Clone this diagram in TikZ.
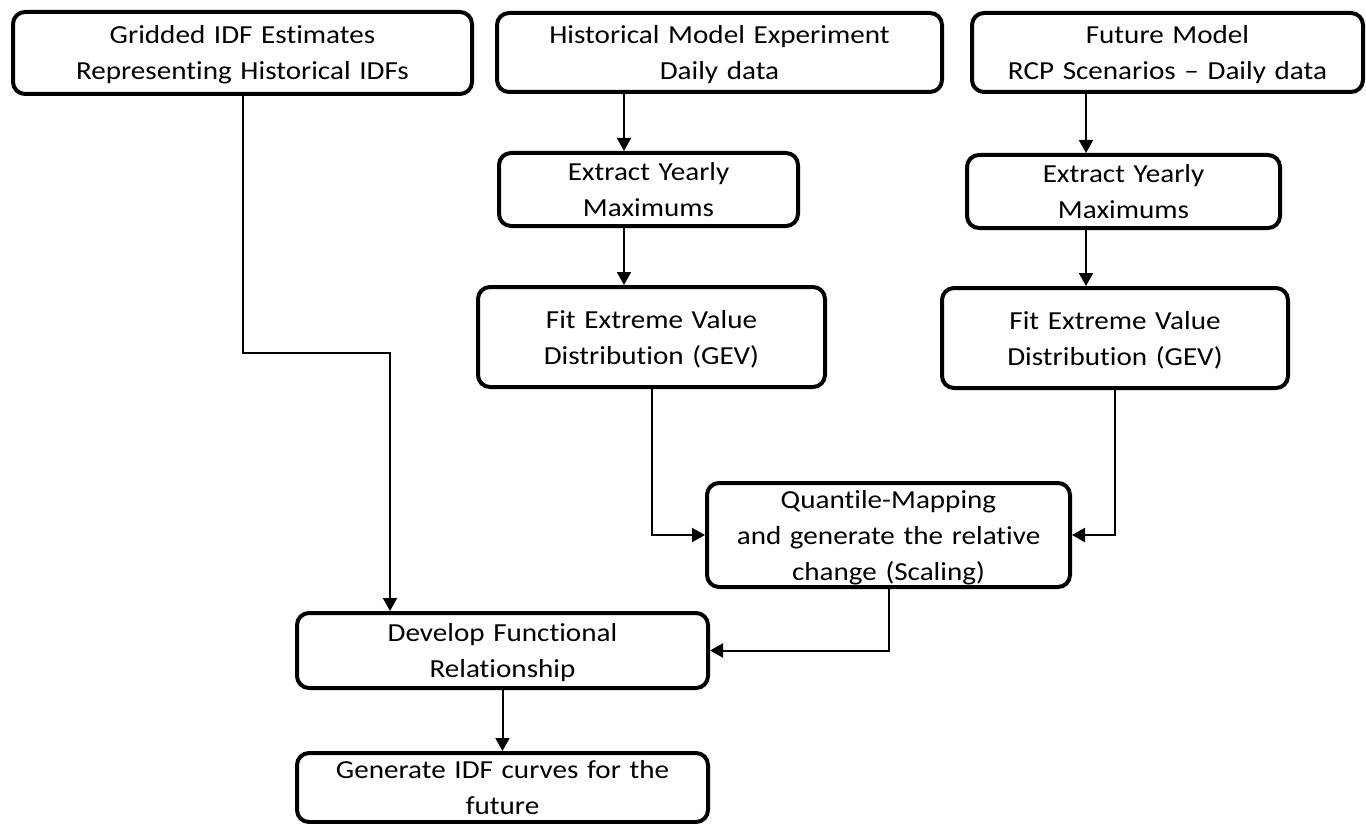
\documentclass[tikz,border=0pt]{standalone}
\usepackage{fontspec}
\setmainfont{Carlito}[FakeStretch=1.12,Ligatures=NoCommon]
\usetikzlibrary{arrows.meta,calc}
\begin{document}
\begin{tikzpicture}[x=1pt,y=-1pt,
  box/.style={draw, line width=4pt, rounded corners=12pt, align=center, inner sep=0pt,
    font=\fontsize{26}{36}\selectfont,
    execute at begin node={\rule{0pt}{24pt}},
    execute at end node={\rule[-6pt]{0pt}{6pt}}},
  conn/.style={line width=2pt},
  arr/.style={conn, -{Triangle[length=13pt,width=14pt]}}]
\useasboundingbox (0,0) rectangle (1366,824);

\node[box, minimum width=459pt, minimum height=82pt, text width=450pt] (grid) at (242.5,53) {Gridded IDF Estimates\\Representing Historical IDFs};
\node[box, minimum width=445pt, minimum height=79pt, text width=436pt] (hist) at (719.5,52.5) {Historical Model Experiment\\Daily data};
\node[box, minimum width=391pt, minimum height=79pt, text width=382pt] (fut) at (1167.5,52.5) {Future Model\\RCP Scenarios – Daily data};
\node[box, minimum width=299pt, minimum height=73pt, text width=290pt] (ext1) at (648.5,189.5) {Extract Yearly\\Maximums};
\node[box, minimum width=313pt, minimum height=73pt, text width=304pt] (ext2) at (1123.5,191.5) {Extract Yearly\\Maximums};
\node[box, minimum width=347pt, minimum height=100pt, text width=338pt] (fit1) at (651.5,337) {Fit Extreme Value\\Distribution (GEV)};
\node[box, minimum width=346pt, minimum height=100pt, text width=337pt] (fit2) at (1115,338) {Fit Extreme Value\\Distribution (GEV)};
\node[box, minimum width=363pt, minimum height=104pt, text width=354pt] (quant) at (888.5,535) {Quantile-Mapping\\and generate the relative\\change (Scaling)};
\node[box, minimum width=411pt, minimum height=75pt, text width=402pt] (dev) at (502.5,650.5) {Develop Functional\\Relationship};
\node[box, minimum width=411pt, minimum height=69pt, text width=402pt] (gen) at (502.5,787.5) {Generate IDF curves for the\\future};

\coordinate (c1) at (390,353);
\coordinate (a1) at (624,0);
\coordinate (a2) at (1086,0);

\draw[arr] (grid.south) |- (c1) -- (c1 |- dev.north);
\draw[arr] (hist.south -| a1) -- (ext1.north -| a1);
\draw[arr] (ext1.south -| a1) -- (fit1.north -| a1);
\draw[arr] (fut.south -| a2) -- (ext2.north -| a2);
\draw[arr] (ext2.south -| a2) -- (fit2.north -| a2);
\draw[arr] (fit1.south) |- (quant.west);
\draw[arr] (fit2.south) |- (quant.east);
\draw[arr] (quant.south) |- (dev.east);
\draw[arr] (dev.south) -- (gen.north);
\end{tikzpicture}
\end{document}
